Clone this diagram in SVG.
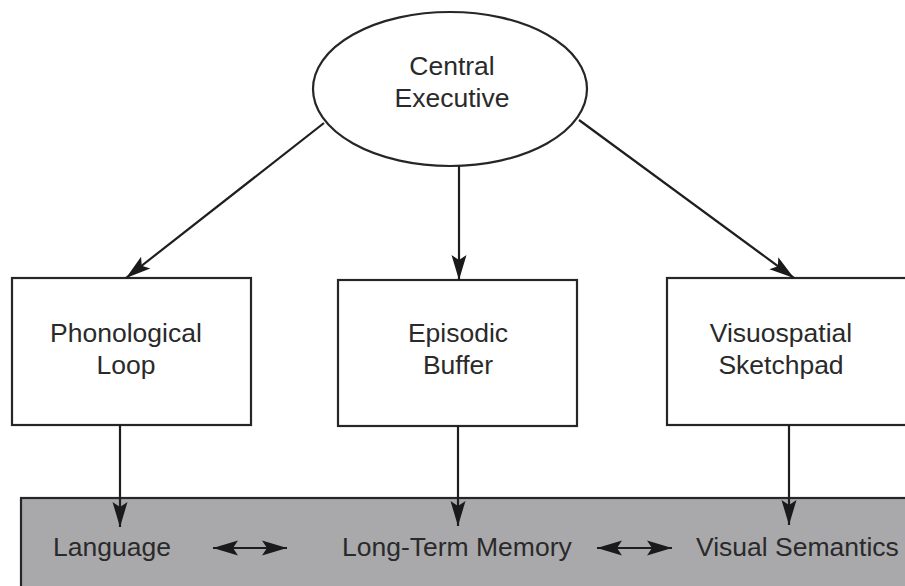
<svg xmlns="http://www.w3.org/2000/svg" width="905" height="586" viewBox="0 0 905 586">
  <style>
    .shape { fill: #ffffff; stroke: #262626; stroke-width: 2.2; }
    .store { fill: #a9a9ac; stroke: #262626; stroke-width: 2.2; }
    .label { font-family: "Liberation Sans", Arial, sans-serif; font-size: 26.5px; fill: #2a2a2a; }
    .mid { text-anchor: middle; }
    .link { stroke: #1e1e1e; stroke-width: 2.2; fill: none; }
  </style>
  <defs>
    <!-- barbed arrowhead shared by every connector -->
    <marker id="head" markerUnits="userSpaceOnUse" markerWidth="28" markerHeight="18" viewBox="0 -9 28 18" refX="25" refY="0" orient="auto-start-reverse">
      <path d="M0,-7.5 L25,0 L0,7.5 L5,0 Z" fill="#1a1a1a"/>
    </marker>
  </defs>

  <rect width="905" height="586" fill="#ffffff"/>

  <!-- long-term memory band -->
  <g id="long-term-memory">
    <rect class="store" x="21" y="498" width="900" height="100"/>
    <text class="label" x="53" y="556">Language</text>
    <text class="label" x="342" y="556">Long-Term Memory</text>
    <text class="label" x="696" y="556">Visual Semantics</text>
  </g>

  <g id="central-executive">
    <ellipse class="shape" cx="450" cy="89" rx="137" ry="77"/>
    <text class="label mid" x="452" y="75">Central</text>
    <text class="label mid" x="452" y="107">Executive</text>
  </g>

  <g id="phonological-loop">
    <rect class="shape" x="12" y="278" width="239" height="147"/>
    <text class="label mid" x="126" y="342">Phonological</text>
    <text class="label mid" x="126" y="374">Loop</text>
  </g>

  <g id="episodic-buffer">
    <rect class="shape" x="338" y="280" width="239" height="146"/>
    <text class="label mid" x="458" y="342">Episodic</text>
    <text class="label mid" x="458" y="374">Buffer</text>
  </g>

  <g id="visuospatial-sketchpad">
    <rect class="shape" x="667" y="278" width="240" height="147"/>
    <text class="label mid" x="781" y="342">Visuospatial</text>
    <text class="label mid" x="781" y="374">Sketchpad</text>
  </g>

  <g id="connectors">
    <line class="link" x1="324" y1="123" x2="126" y2="278" marker-end="url(#head)"/>
    <line class="link" x1="459" y1="166" x2="459" y2="280" marker-end="url(#head)"/>
    <line class="link" x1="579" y1="120" x2="794" y2="278" marker-end="url(#head)"/>
    <line class="link" x1="120" y1="425" x2="120" y2="527" marker-end="url(#head)"/>
    <line class="link" x1="458" y1="426" x2="458" y2="526" marker-end="url(#head)"/>
    <line class="link" x1="789" y1="425" x2="789" y2="525" marker-end="url(#head)"/>
    <line class="link" x1="213" y1="548" x2="287" y2="548" marker-start="url(#head)" marker-end="url(#head)"/>
    <line class="link" x1="597" y1="548" x2="672" y2="548" marker-start="url(#head)" marker-end="url(#head)"/>
  </g>
</svg>
